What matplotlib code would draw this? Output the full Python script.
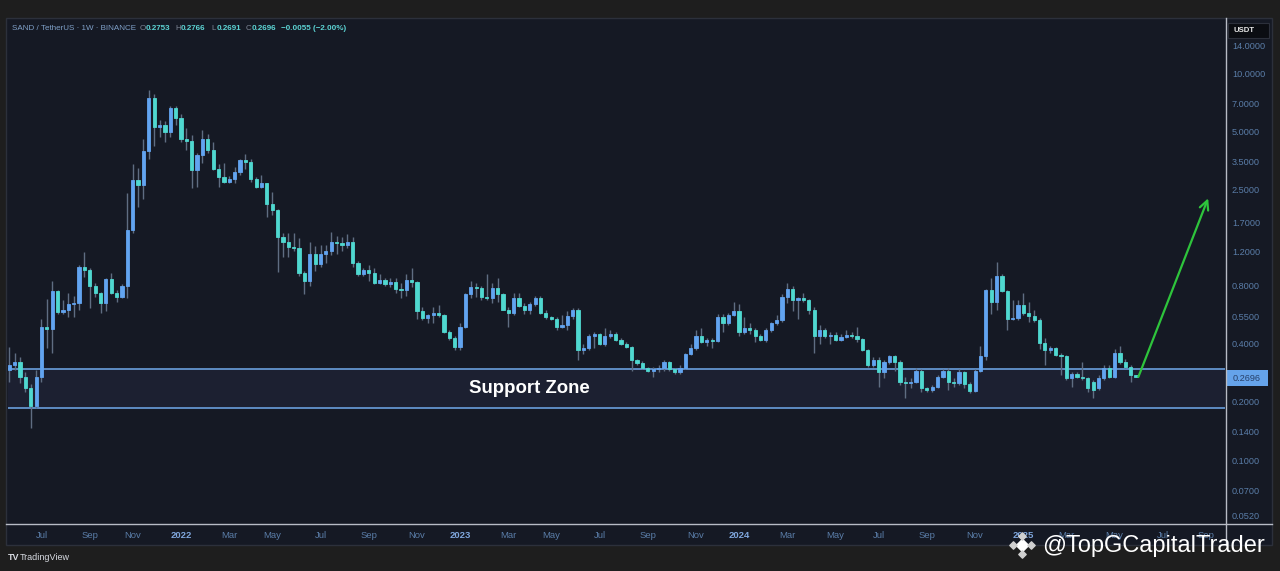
import numpy as np
import pandas as pd
import matplotlib
matplotlib.use('Agg')
import matplotlib.pyplot as plt
import matplotlib.dates as mdates
from matplotlib.patches import Rectangle
from matplotlib.ticker import NullLocator, NullFormatter

# weekly SAND/USDT candles, first bar = week of 2021-05-24
first_week = '2021-05-24'
opens = [0.292, 0.31, 0.322, 0.27, 0.236, 0.19, 0.27, 0.49, 0.475, 0.75,
         0.585, 0.60, 0.64, 0.65, 1.0, 0.96, 0.80, 0.73, 0.65, 0.86,
         0.73, 0.70, 0.80, 1.55, 2.8, 2.65, 3.98, 7.45, 5.3, 5.4,
         4.95, 6.6, 5.9, 4.6, 4.5, 3.15, 3.8, 4.6, 4.0, 3.2,
         2.9, 2.75, 2.85, 3.1, 3.55, 3.5, 2.85, 2.6, 2.7, 2.12,
         1.96, 1.42, 1.35, 1.27, 1.25, 0.93, 0.84, 1.17, 1.03, 1.16,
         1.2, 1.35, 1.32, 1.3, 1.35, 1.05, 0.92, 0.96, 0.93, 0.82,
         0.85, 0.81, 0.83, 0.77, 0.76, 0.85, 0.83, 0.59, 0.545, 0.565,
         0.58, 0.56, 0.46, 0.43, 0.385, 0.49, 0.72, 0.79, 0.78, 0.70,
         0.69, 0.78, 0.72, 0.60, 0.58, 0.69, 0.63, 0.60, 0.64, 0.69,
         0.58, 0.55, 0.54, 0.49, 0.50, 0.555, 0.60, 0.37, 0.38, 0.44,
         0.45, 0.40, 0.44, 0.45, 0.42, 0.40, 0.385, 0.33, 0.318, 0.30,
         0.29, 0.295, 0.30, 0.32, 0.295, 0.285, 0.30, 0.355, 0.38, 0.44,
         0.41, 0.42, 0.415, 0.55, 0.51, 0.565, 0.59, 0.46, 0.48, 0.47,
         0.44, 0.42, 0.47, 0.51, 0.53, 0.70, 0.77, 0.67, 0.69, 0.675,
         0.60, 0.44, 0.47, 0.44, 0.445, 0.42, 0.435, 0.445, 0.44, 0.425,
         0.37, 0.31, 0.33, 0.285, 0.32, 0.345, 0.32, 0.255, 0.25, 0.255,
         0.29, 0.235, 0.23, 0.24, 0.27, 0.29, 0.255, 0.25, 0.285, 0.247,
         0.228, 0.29, 0.345, 0.76, 0.66, 0.90, 0.75, 0.54, 0.545, 0.635,
         0.575, 0.555, 0.53, 0.405, 0.37, 0.38, 0.35, 0.345, 0.265, 0.28,
         0.27, 0.265, 0.255, 0.235, 0.265, 0.30, 0.27, 0.36, 0.32, 0.305,
         0.2753]
highs = [0.385, 0.36, 0.343, 0.286, 0.247, 0.292, 0.54, 0.68, 0.84, 0.76,
         0.67, 0.73, 0.71, 1.02, 1.19, 0.98, 0.82, 0.74, 0.87, 0.93,
         0.76, 0.81, 2.41, 3.4, 3.25, 4.6, 8.2, 7.8, 5.73, 5.7,
         6.8, 6.75, 6.2, 5.2, 4.8, 3.9, 5.07, 4.85, 4.4, 3.4,
         3.45, 2.95, 3.27, 3.6, 3.85, 3.6, 2.9, 3.0, 2.72, 2.45,
         1.98, 1.5, 1.5, 1.5, 1.41, 0.95, 1.35, 1.28, 1.3, 1.3,
         1.52, 1.45, 1.42, 1.47, 1.42, 1.07, 0.99, 1.02, 0.99, 0.92,
         0.88, 0.88, 0.87, 0.82, 0.92, 0.98, 0.84, 0.62, 0.57, 0.62,
         0.635, 0.57, 0.47, 0.44, 0.51, 0.73, 0.84, 0.82, 0.80, 0.92,
         0.82, 0.88, 0.73, 0.62, 0.73, 0.73, 0.65, 0.66, 0.71, 0.71,
         0.60, 0.555, 0.55, 0.565, 0.59, 0.61, 0.61, 0.40, 0.45, 0.46,
         0.455, 0.48, 0.47, 0.46, 0.43, 0.41, 0.39, 0.335, 0.325, 0.305,
         0.305, 0.31, 0.33, 0.325, 0.30, 0.31, 0.36, 0.40, 0.47, 0.48,
         0.43, 0.43, 0.57, 0.57, 0.58, 0.66, 0.64, 0.55, 0.51, 0.48,
         0.45, 0.48, 0.52, 0.56, 0.72, 0.82, 0.80, 0.70, 0.73, 0.68,
         0.62, 0.50, 0.48, 0.46, 0.46, 0.45, 0.47, 0.46, 0.49, 0.43,
         0.375, 0.34, 0.34, 0.33, 0.35, 0.35, 0.33, 0.27, 0.265, 0.30,
         0.295, 0.24, 0.245, 0.275, 0.295, 0.30, 0.265, 0.295, 0.29, 0.255,
         0.295, 0.39, 0.77, 0.87, 1.06, 0.92, 0.76, 0.67, 0.67, 0.73,
         0.66, 0.60, 0.545, 0.43, 0.39, 0.385, 0.36, 0.35, 0.285, 0.285,
         0.32, 0.27, 0.26, 0.275, 0.31, 0.31, 0.375, 0.39, 0.335, 0.31,
         0.2766]
lows = [0.254, 0.292, 0.25, 0.224, 0.146, 0.185, 0.255, 0.38, 0.36, 0.57,
        0.57, 0.55, 0.55, 0.60, 0.89, 0.61, 0.70, 0.58, 0.59, 0.72,
        0.66, 0.69, 0.69, 1.5, 2.05, 2.25, 3.6, 4.2, 4.7, 4.4,
        4.7, 5.4, 4.4, 4.0, 2.55, 2.6, 3.45, 3.9, 3.15, 2.6,
        2.7, 2.7, 2.72, 3.0, 3.2, 2.75, 2.55, 2.55, 1.82, 1.86,
        0.94, 1.13, 1.13, 1.2, 0.9, 0.72, 0.80, 0.95, 1.0, 1.05,
        1.15, 1.17, 1.2, 1.25, 1.0, 0.9, 0.9, 0.84, 0.81, 0.81,
        0.80, 0.79, 0.73, 0.69, 0.71, 0.79, 0.54, 0.53, 0.51, 0.51,
        0.55, 0.455, 0.42, 0.37, 0.37, 0.48, 0.69, 0.70, 0.67, 0.67,
        0.65, 0.66, 0.595, 0.49, 0.56, 0.62, 0.57, 0.57, 0.63, 0.57,
        0.54, 0.53, 0.47, 0.48, 0.47, 0.54, 0.33, 0.355, 0.37, 0.38,
        0.395, 0.39, 0.43, 0.415, 0.395, 0.38, 0.29, 0.31, 0.295, 0.285,
        0.27, 0.285, 0.29, 0.29, 0.28, 0.28, 0.295, 0.35, 0.37, 0.405,
        0.39, 0.38, 0.41, 0.46, 0.50, 0.555, 0.44, 0.45, 0.45, 0.41,
        0.415, 0.41, 0.46, 0.50, 0.52, 0.65, 0.59, 0.54, 0.66, 0.57,
        0.36, 0.40, 0.43, 0.40, 0.415, 0.415, 0.43, 0.43, 0.41, 0.365,
        0.305, 0.305, 0.24, 0.265, 0.315, 0.29, 0.245, 0.21, 0.235, 0.25,
        0.225, 0.225, 0.225, 0.235, 0.265, 0.23, 0.24, 0.245, 0.235, 0.223,
        0.225, 0.285, 0.33, 0.57, 0.60, 0.74, 0.47, 0.53, 0.53, 0.56,
        0.52, 0.52, 0.375, 0.31, 0.36, 0.345, 0.275, 0.26, 0.24, 0.265,
        0.26, 0.225, 0.21, 0.23, 0.26, 0.265, 0.265, 0.315, 0.30, 0.255,
        0.2691]
closes = [0.31, 0.322, 0.27, 0.236, 0.19, 0.27, 0.49, 0.475, 0.75, 0.585,
          0.60, 0.64, 0.65, 1.0, 0.96, 0.80, 0.73, 0.65, 0.86, 0.73,
          0.70, 0.80, 1.55, 2.8, 2.65, 3.98, 7.45, 5.3, 5.4, 4.95,
          6.6, 5.9, 4.6, 4.5, 3.15, 3.8, 4.6, 4.0, 3.2, 2.9,
          2.75, 2.85, 3.1, 3.55, 3.5, 2.85, 2.6, 2.7, 2.12, 1.96,
          1.42, 1.35, 1.27, 1.25, 0.93, 0.84, 1.17, 1.03, 1.16, 1.2,
          1.35, 1.32, 1.3, 1.35, 1.05, 0.92, 0.96, 0.93, 0.82, 0.85,
          0.81, 0.83, 0.77, 0.76, 0.85, 0.83, 0.59, 0.545, 0.565, 0.58,
          0.56, 0.46, 0.43, 0.385, 0.49, 0.72, 0.79, 0.78, 0.70, 0.69,
          0.78, 0.72, 0.60, 0.58, 0.69, 0.63, 0.60, 0.64, 0.69, 0.58,
          0.55, 0.54, 0.49, 0.50, 0.555, 0.60, 0.37, 0.38, 0.44, 0.45,
          0.40, 0.44, 0.45, 0.42, 0.40, 0.385, 0.33, 0.318, 0.30, 0.29,
          0.295, 0.30, 0.32, 0.295, 0.285, 0.30, 0.355, 0.38, 0.44, 0.41,
          0.42, 0.415, 0.55, 0.51, 0.565, 0.59, 0.46, 0.48, 0.47, 0.44,
          0.42, 0.47, 0.51, 0.53, 0.70, 0.77, 0.67, 0.69, 0.675, 0.60,
          0.44, 0.47, 0.44, 0.445, 0.42, 0.435, 0.445, 0.44, 0.425, 0.37,
          0.31, 0.33, 0.285, 0.32, 0.345, 0.32, 0.255, 0.25, 0.255, 0.29,
          0.235, 0.23, 0.24, 0.27, 0.29, 0.255, 0.25, 0.285, 0.247, 0.228,
          0.29, 0.345, 0.76, 0.66, 0.90, 0.75, 0.54, 0.545, 0.635, 0.575,
          0.555, 0.53, 0.405, 0.37, 0.38, 0.35, 0.345, 0.265, 0.28, 0.27,
          0.265, 0.235, 0.23, 0.265, 0.30, 0.27, 0.36, 0.32, 0.305, 0.2753,
          0.2696]

price_ticks = [14, 10, 7, 5, 3.5, 2.5, 1.7, 1.2, 0.8, 0.55, 0.4, 0.2, 0.14, 0.1, 0.07, 0.052]
zone_low, zone_high = 0.186, 0.296
target_date, target_price = '2025-09-04', 2.26
last_price = 0.2696
header_vals = ['0.2753', '0.2766', '0.2691', '0.2696', '\u22120.0055 (\u22122.00%)']

BG = '#1e1e1e'
PANE = '#151924'
UP = '#62a4f0'
DOWN = '#4fd8d0'
WICK = '#5f6d82'
AXTXT = '#5a7da8'

plt.rcParams['font.family'] = ['Liberation Sans', 'DejaVu Sans']

fig = plt.figure(figsize=(12.8, 5.71), dpi=100, facecolor=BG)

# background pane in pixel coords
bg = fig.add_axes([0, 0, 1, 1], zorder=0)
bg.set_xlim(0, 1280); bg.set_ylim(571, 0); bg.axis('off')
bg.add_patch(Rectangle((6, 18), 1266, 527, facecolor=PANE, edgecolor='#2c303b', lw=1))

ax = fig.add_axes([8 / 1280, 1 - 523 / 571, (1225 - 8) / 1280, (523 - 20) / 571], zorder=1)
ax.set_facecolor(PANE)

dates = pd.date_range(first_week, periods=len(closes), freq='7D')
x = mdates.date2num(dates)
o = np.array(opens); h = np.array(highs); l = np.array(lows); c = np.array(closes)
cols = [UP if cc >= oo else DOWN for oo, cc in zip(o, c)]

ax.set_yscale('log')
ax.axhspan(zone_low, zone_high, facecolor='#1c2031', edgecolor='none', zorder=0.5)
ax.axhline(zone_high, color='#6a9fdc', lw=1.2, zorder=1)
ax.axhline(zone_low, color='#6a9fdc', lw=1.2, zorder=1)

ax.vlines(x, l, h, color=WICK, lw=1, zorder=2)
ax.bar(x, np.abs(c - o), bottom=np.minimum(o, c), width=4.2,
       color=cols, edgecolor=cols, linewidth=0.6, zorder=3)

ax.text(mdates.date2num(pd.Timestamp('2023-04-02')), np.sqrt(zone_low * zone_high),
        'Support Zone', color='white', fontsize=13.4, fontweight='bold',
        ha='center', va='center', zorder=4)

ax.annotate('', xy=(mdates.date2num(pd.Timestamp(target_date)), target_price),
            xytext=(x[-1] + 3, last_price),
            arrowprops=dict(arrowstyle='->', color='#2ec43c', lw=1.6,
                            mutation_scale=16, shrinkA=0, shrinkB=0), zorder=5)

ax.set_xlim(x[0] - 1.7, x[0] + 1586)
ax.set_ylim(0.0473, 18.9)

ax.yaxis.tick_right()
ax.set_yticks(price_ticks)
ax.set_yticklabels([f'{v:.4f}' for v in price_ticks])
ax.yaxis.set_minor_locator(NullLocator())
ax.yaxis.set_minor_formatter(NullFormatter())
ax.tick_params(axis='y', length=0, pad=5, labelsize=6.6, labelcolor=AXTXT)

# month labels at the first weekly bar of every second month
all_weeks = pd.date_range(first_week, '2025-09-30', freq='7D')
tick_dates, tick_labels = [], []
for d in all_weeks:
    if d.month % 2 == 1 and d.day <= 7:
        tick_dates.append(d)
        tick_labels.append(str(d.year) if d.month == 1 else d.strftime('%b'))
ax.set_xticks(mdates.date2num(pd.DatetimeIndex(tick_dates)))
ax.set_xticklabels(tick_labels)
ax.tick_params(axis='x', length=0, pad=6, labelsize=6.8, labelcolor=AXTXT)
for t in ax.get_xticklabels():
    if t.get_text().isdigit():
        t.set_fontweight('bold')
        t.set_color('#7fa6dc')

for s in ax.spines.values():
    s.set_visible(False)

# overlay: separators, labels, header, watermark
ov = fig.add_axes([0, 0, 1, 1], zorder=3)
ov.set_xlim(0, 1280); ov.set_ylim(571, 0); ov.axis('off')
ov.patch.set_alpha(0)
ov.plot([1225.5, 1225.5], [18, 545], color='#b8bcc6', lw=1)
ov.plot([6, 1272], [523.5, 523.5], color='#b8bcc6', lw=1)

ov.add_patch(Rectangle((1228, 23), 41, 15, facecolor='#0b0d12', edgecolor='#2c303b', lw=0.8))
ov.text(1233, 31, 'USDT', color='#e8e8e8', fontsize=5.6, fontweight='bold', va='center')
ov.add_patch(Rectangle((1226, 370), 42, 16, facecolor='#65a3ea', edgecolor='none'))
ov.text(1247, 378.5, f'{last_price:.4f}', color='#27406a', fontsize=6.6, ha='center', va='center')

ov.text(12, 28.5, 'SAND / TetherUS \u00b7 1W \u00b7 BINANCE', color='#7fa0c8', fontsize=5.8, va='center')
for lx, letter, val in zip([140, 175, 211, 246, 281], ['O', 'H', 'L', 'C', ''], header_vals):
    if letter:
        ov.text(lx, 28.5, letter, color='#7f8797', fontsize=5.8, va='center')
        ov.text(lx + 5.5, 28.5, val, color='#5cd3d3', fontsize=5.8, va='center', fontweight='bold')
    else:
        ov.text(lx, 28.5, val, color='#5cd3d3', fontsize=5.8, va='center', fontweight='bold')

ov.text(8, 558, 'TV', color='#d8dbe2', fontsize=6.5, fontweight='bold', va='center')
ov.text(20, 558, 'TradingView', color='#d8dbe2', fontsize=6.5, va='center')

# binance-like mark and handle (sits over the time axis, as in the source image)
ov.scatter([1022], [545], marker='D', s=40, color='white', zorder=5)
ov.scatter([1013, 1031, 1022, 1022], [545, 545, 536, 554], marker='D', s=14,
           color='#d0d0d0', zorder=5)
ov.text(1042, 546, '@TopGCapitalTrader', color='white', fontsize=17, va='center', zorder=5)

fig.savefig('out.png', dpi=100, facecolor=BG)
